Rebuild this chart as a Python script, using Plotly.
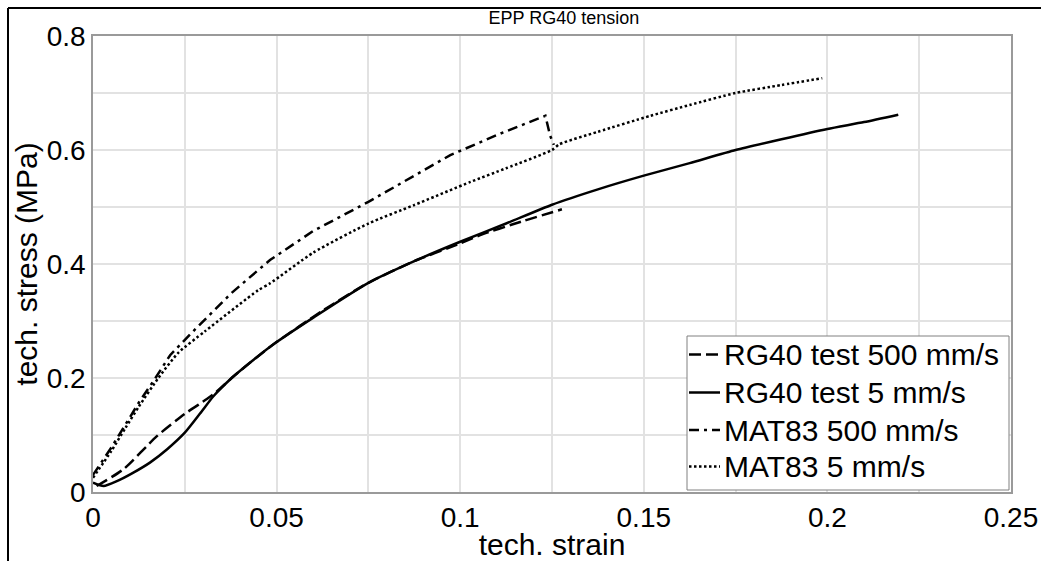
import plotly.graph_objects as go

# RG40 test 5 mm/s (solid)
x_test5 = [0, 0.0029, 0.0065, 0.011, 0.0156, 0.0202, 0.025, 0.0292, 0.0328, 0.0383, 0.0447, 0.05,
           0.06, 0.075, 0.0875, 0.1, 0.1125, 0.125, 0.1375, 0.15, 0.1625, 0.175, 0.1875, 0.2, 0.21, 0.2193]
y_test5 = [0.0165, 0.0105, 0.019, 0.034, 0.052, 0.075, 0.104, 0.138, 0.168, 0.203, 0.237, 0.263,
           0.306, 0.367, 0.405, 0.439, 0.471, 0.504, 0.531, 0.555, 0.577, 0.600, 0.619, 0.637, 0.649, 0.662]

# RG40 test 500 mm/s (dashed)
x_test500 = [0.001, 0.0083, 0.0174, 0.025, 0.031, 0.0335, 0.0383, 0.0447, 0.05, 0.0625, 0.075,
             0.0875, 0.1, 0.106, 0.115, 0.1277]
y_test500 = [0.0105, 0.040, 0.098, 0.137, 0.163, 0.175, 0.203, 0.237, 0.263, 0.318, 0.367,
             0.405, 0.436, 0.452, 0.471, 0.496]

# MAT83 500 mm/s (dash-dot)
x_mat500 = [0, 0.005, 0.0088, 0.0125, 0.0168, 0.021, 0.0265, 0.0377, 0.0482, 0.06, 0.075, 0.0875,
            0.0973, 0.111, 0.1232, 0.1245, 0.1255]
y_mat500 = [0.030, 0.078, 0.118, 0.157, 0.198, 0.240, 0.277, 0.349, 0.407, 0.458, 0.509, 0.555,
            0.591, 0.629, 0.660, 0.625, 0.609]

# MAT83 5 mm/s (dotted)
x_mat5 = [0, 0.005, 0.0088, 0.0125, 0.0178, 0.0232, 0.0305, 0.045, 0.0482, 0.06, 0.075, 0.0873, 0.1028,
          0.1125, 0.125, 0.127, 0.1375, 0.1518, 0.1625, 0.175, 0.1875, 0.1986]
y_mat5 = [0.025, 0.072, 0.112, 0.150, 0.200, 0.244, 0.282, 0.354, 0.366, 0.420, 0.471, 0.503, 0.544,
          0.568, 0.600, 0.610, 0.632, 0.660, 0.679, 0.700, 0.714, 0.726]

legend_names = ["RG40 test 500 mm/s", "RG40 test 5 mm/s", "MAT83 500 mm/s", "MAT83 5 mm/s"]
line_dashes = ["12px,5px", "solid", "10px,5px,3px,5px", "2.5px,2.5px"]

FONT = "Arial, Liberation Sans, sans-serif"
LW = 2.5

series = [(x_test500, y_test500, "spline"), (x_test5, y_test5, "spline"),
          (x_mat500, y_mat500, "linear"), (x_mat5, y_mat5, "spline")]

fig = go.Figure()
for (xs, ys, shape), name, dash in zip(series, legend_names, line_dashes):
    fig.add_trace(go.Scatter(x=xs, y=ys, mode="lines", name=name, showlegend=False,
                             line=dict(color="black", width=LW, dash=dash, shape=shape,
                                       smoothing=0.6 if shape == "spline" else None)))

axis_common = dict(
    showline=True, linecolor="#9a9a9a", linewidth=1.5, mirror=True,
    showgrid=True, gridcolor="#e2e2e2", gridwidth=1.5, automargin=False,
    zeroline=False, ticks="", tickfont=dict(family=FONT, size=28, color="black"),
)

fig.update_xaxes(range=[0, 0.25], dtick=0.05, tick0=0,
                 minor=dict(dtick=0.025, showgrid=True, gridcolor="#e2e2e2", gridwidth=1.5),
                 title=dict(text="tech. strain", font=dict(family=FONT, size=30, color="black"), standoff=0),
                 **axis_common)
fig.update_yaxes(range=[0, 0.8], dtick=0.2, tick0=0,
                 minor=dict(dtick=0.1, showgrid=True, gridcolor="#e2e2e2", gridwidth=1.5),
                 title=dict(text="tech. stress (MPa)", font=dict(family=FONT, size=30, color="black"), standoff=0),
                 **axis_common)

L, R, T, B = 93, 30, 36, 69
W, H = 1041, 561
pw, ph = W - L - R, H - T - B


def px2x(px):
    return (px - L) / pw


def py2y(py):
    return (H - B - py) / ph


fig.update_layout(
    width=W, height=H,
    margin=dict(l=L, r=R, t=T, b=B, autoexpand=False),
    paper_bgcolor="white", plot_bgcolor="white",
    title=dict(text="EPP RG40 tension", x=564 / W, xanchor="center", xref="container",
               y=1 - 18 / H, yanchor="middle",
               font=dict(family=FONT, size=18, color="black")),
    showlegend=False,
)

# legend box (drawn manually to match the compact spacing)
fig.add_shape(type="rect", xref="paper", yref="paper",
              x0=px2x(687), x1=px2x(1009), y0=py2y(490), y1=py2y(336),
              line=dict(color="#808080", width=1), fillcolor="white", layer="above")
entry_py = [354.5, 392.5, 430, 466.5]
for name, dash, py in zip(legend_names, line_dashes, entry_py):
    fig.add_shape(type="line", xref="paper", yref="paper",
                  x0=px2x(689), x1=px2x(720), y0=py2y(py), y1=py2y(py),
                  line=dict(color="black", width=LW, dash=dash), layer="above")
    fig.add_annotation(text=name, xref="paper", yref="paper", x=px2x(722), y=py2y(py),
                       xanchor="left", yanchor="middle", showarrow=False,
                       font=dict(family=FONT, size=30, color="black"))

# outer frame lines (top and left)
fig.add_shape(type="line", xref="paper", yref="paper", x0=px2x(8), x1=px2x(1045), y0=py2y(8), y1=py2y(8),
              line=dict(color="black", width=2))
fig.add_shape(type="line", xref="paper", yref="paper", x0=px2x(8), x1=px2x(8), y0=py2y(8), y1=py2y(565),
              line=dict(color="black", width=2))

fig.write_html("out.html")
